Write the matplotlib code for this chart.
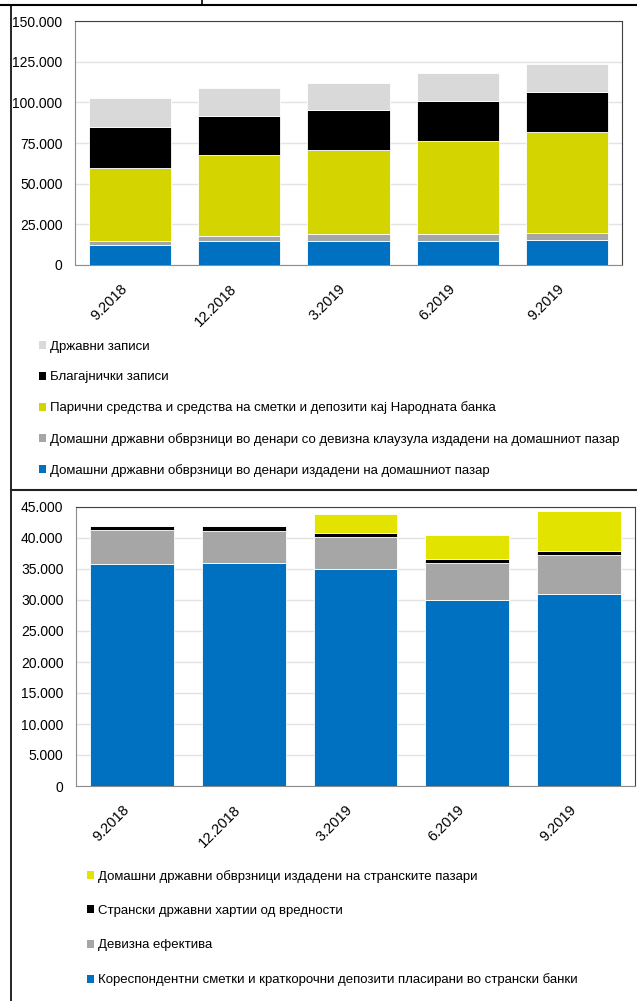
import matplotlib
matplotlib.use("Agg")
import matplotlib.pyplot as plt
from matplotlib.patches import Patch
from matplotlib.ticker import FuncFormatter, MultipleLocator
import numpy as np

plt.rcParams['font.family'] = ['Liberation Sans', 'DejaVu Sans']

periods = ['9.2018', '12.2018', '3.2019', '6.2019', '9.2019']

# top chart (stack order bottom -> top)
top_blue = [12400, 14500, 14500, 14900, 15500]
top_gray = [2500, 3500, 4300, 3900, 3900]
top_yellow = [44800, 49400, 51900, 57600, 62600]
top_black = [25400, 24300, 24700, 24200, 24500]
top_light = [17800, 17000, 16300, 17700, 17000]
top_labels = ['Домашни државни обврзници во денари издадени на домашниот пазар',
              'Домашни државни обврзници во денари со девизна клаузула издадени на домашниот пазар',
              'Парични средства и средства на сметки и депозити кај Народната банка',
              'Благајнички записи',
              'Државни записи']

# bottom chart
bot_blue = [35750, 36000, 35000, 30050, 30950]
bot_gray = [5550, 5130, 5200, 5970, 6250]
bot_black = [590, 760, 600, 590, 640]
bot_yellow = [0, 0, 3030, 3820, 6510]
bot_labels = ['Кореспондентни сметки и краткорочни депозити пласирани во странски банки',
              'Девизна ефектива',
              'Странски државни хартии од вредности',
              'Домашни државни обврзници издадени на странските пазари']

W, H = 637, 1001
fig = plt.figure(figsize=(W / 100, H / 100), dpi=100)


def px_axes(l, t, r, b):
    return fig.add_axes([l / W, 1 - b / H, (r - l) / W, (b - t) / H])


def fmt(v, pos):
    return '{:,}'.format(int(round(v))).replace(',', '.')


def stacked(ax, series, colors, ymax, step):
    x = np.arange(len(periods))
    bottom = np.zeros(len(periods))
    for vals, c in zip(series, colors):
        vals = np.array(vals, dtype=float)
        ax.bar(x, vals, 0.75, bottom=bottom, color=c, edgecolor='white', linewidth=0.6, zorder=3)
        bottom += vals
    ax.set_xlim(-0.5, len(periods) - 0.5)
    ax.set_ylim(0, ymax)
    ax.yaxis.set_major_locator(MultipleLocator(step))
    ax.yaxis.set_major_formatter(FuncFormatter(fmt))
    ax.grid(axis='y', color='#e3e3e3', linewidth=1, zorder=0)
    ax.set_xticks(x)
    ax.set_xticklabels(periods, rotation=45, ha='right', va='top')
    ax.tick_params(axis='x', length=0, pad=12, labelsize=10.5)
    ax.tick_params(axis='y', length=0, pad=9, labelsize=10)
    for s in ['top', 'right']:
        ax.spines[s].set_color('#404040')
    for s in ['left', 'bottom']:
        ax.spines[s].set_color('#8c8c8c')


top_colors = ['#0070c0', '#a6a6a6', '#d4d400', '#000000', '#d9d9d9']
ax1 = px_axes(75, 21, 622, 265)
stacked(ax1, [top_blue, top_gray, top_yellow, top_black, top_light], top_colors, 150000, 25000)

bot_colors = ['#0070c0', '#a6a6a6', '#000000', '#e3e300']
ax2 = px_axes(76, 507, 635, 786)
stacked(ax2, [bot_blue, bot_gray, bot_black, bot_yellow], bot_colors, 45000, 5000)

# legends (reverse order, as in the original)
h1 = [Patch(facecolor=c) for c in top_colors][::-1]
fig.legend(h1, top_labels[::-1], loc='upper left', bbox_to_anchor=(39 / W, 1 - 341 / H),
           frameon=False, fontsize=9.5, handlelength=0.55, handleheight=0.55,
           handletextpad=0.3, labelspacing=1.38, borderpad=0, borderaxespad=0)

h2 = [Patch(facecolor=c) for c in bot_colors][::-1]
fig.legend(h2, bot_labels[::-1], loc='upper left', bbox_to_anchor=(87 / W, 1 - 870 / H),
           frameon=False, fontsize=9.5, handlelength=0.55, handleheight=0.55,
           handletextpad=0.3, labelspacing=1.68, borderpad=0, borderaxespad=0)

# panel frame lines
fig.add_artist(plt.Line2D([0, 1], [1 - 5 / H, 1 - 5 / H], color='black', lw=1.5))
fig.add_artist(plt.Line2D([11 / W, 11 / W], [0, 1 - 5 / H], color='black', lw=1.2))
fig.add_artist(plt.Line2D([11 / W, 1], [1 - 490 / H, 1 - 490 / H], color='#222222', lw=1.5))
fig.add_artist(plt.Line2D([202 / W, 202 / W], [1 - 5 / H, 1], color='black', lw=1.2))

fig.savefig('out.png', dpi=100)
